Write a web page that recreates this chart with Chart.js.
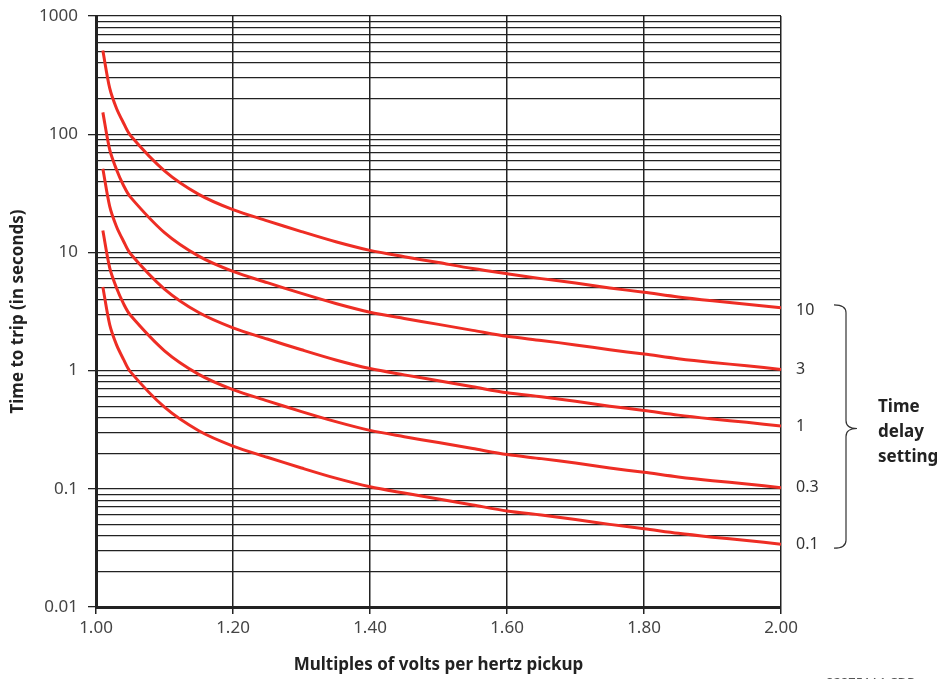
<!DOCTYPE html>
<html>
<head>
<meta charset="utf-8">
<script src="https://cdn.jsdelivr.net/npm/chart.js@4.4.1/dist/chart.umd.min.js"></script>
<style>
  html, body { margin: 0; padding: 0; background: #fff; }
  #wrap { position: relative; width: 947px; height: 679px; }
</style>
</head>
<body>
<div id="wrap"><canvas id="tripChart" width="947" height="679"></canvas></div>
<script>
// multiples of V/Hz pickup
const multiples = [1.01, 1.02, 1.03, 1.04, 1.05, 1.10, 1.15, 1.20, 1.25, 1.30, 1.35, 1.40,
                   1.45, 1.50, 1.55, 1.60, 1.65, 1.70, 1.75, 1.80, 1.85, 1.90, 1.95, 2.00];

// time to trip (s)
const td10  = [510, 245, 165, 125, 98, 49, 31, 23, 18.5, 15, 12.3, 10.4,
               9.2, 8.2, 7.3, 6.6, 6.0, 5.5, 5.0, 4.6, 4.2, 3.9, 3.65, 3.4];
const td3   = [153, 74, 50, 37, 29.5, 14.7, 9.3, 6.9, 5.55, 4.5, 3.7, 3.12,
               2.76, 2.46, 2.19, 1.95, 1.8, 1.65, 1.5, 1.38, 1.26, 1.17, 1.1, 1.02];
const td1   = [51, 24.5, 16.5, 12.5, 9.8, 4.9, 3.1, 2.3, 1.85, 1.5, 1.23, 1.04,
               0.92, 0.82, 0.73, 0.65, 0.6, 0.55, 0.5, 0.46, 0.42, 0.39, 0.365, 0.34];
const td03  = [15.3, 7.4, 5.0, 3.7, 2.95, 1.47, 0.93, 0.69, 0.555, 0.45, 0.37, 0.312,
               0.276, 0.246, 0.219, 0.195, 0.18, 0.165, 0.15, 0.138, 0.126, 0.117, 0.11, 0.102];
const td01  = [5.1, 2.45, 1.65, 1.25, 0.98, 0.49, 0.31, 0.23, 0.185, 0.15, 0.123, 0.104,
               0.092, 0.082, 0.073, 0.065, 0.06, 0.055, 0.05, 0.046, 0.042, 0.039, 0.0365, 0.034];

const curves = [td10, td3, td1, td03, td01];
const delayLabels = ['10', '3', '1', '0.3', '0.1'];

// y grid: every 1..9 x decade, labels only on decades
const decades = [0.01, 0.1, 1, 10, 100, 1000];
const yTicks = [];
decades.forEach((d, i) => {
    if (i === decades.length - 1) { yTicks.push(d); return; }
    for (let k = 1; k <= 9; k++) yTicks.push(+(d * k).toPrecision(3));
});
const xTicks = [1.00, 1.20, 1.40, 1.60, 1.80, 2.00];

const isDecade = v => decades.some(d => Math.abs(d - v) < d * 1e-6);

const FONT = "'Noto Sans', 'DejaVu Sans', sans-serif";
const RED = '#ee2d24';

// labels on the right + brace + footnote
const sidePlugin = {
    id: 'side',
    afterDraw(chart) {
        const ctx = chart.ctx;
        const y = chart.scales.y;
        const area = chart.chartArea;
        ctx.save();
        ctx.fillStyle = '#333';
        ctx.font = '16px ' + FONT;
        ctx.textBaseline = 'middle';
        ctx.textAlign = 'left';
        const ys = [];
        curves.forEach((c, i) => {
            const py = y.getPixelForValue(c[c.length - 1]);
            ys.push(py);
            ctx.fillText(delayLabels[i], area.right + 15, py + (i === 0 ? 3 : 0));
        });

        // brace
        const top = ys[0] - 3, bot = ys[ys.length - 1] + 4, mid = (top + bot) / 2 + 2;
        const bx = 846, r = 8;
        ctx.strokeStyle = '#333';
        ctx.lineWidth = 1.2;
        ctx.beginPath();
        ctx.moveTo(bx - 12, top);
        ctx.quadraticCurveTo(bx, top, bx, top + r);
        ctx.lineTo(bx, mid - r);
        ctx.quadraticCurveTo(bx, mid, bx + 11, mid);
        ctx.quadraticCurveTo(bx, mid, bx, mid + r);
        ctx.lineTo(bx, bot - r);
        ctx.quadraticCurveTo(bx, bot, bx - 12, bot);
        ctx.stroke();

        ctx.fillStyle = '#222';
        ctx.font = 'bold 17px ' + FONT;
        ctx.fillText('Time', 878, mid - 21);
        ctx.fillText('delay', 878, mid + 4);
        ctx.fillText('setting', 878, mid + 29);

        ctx.fillStyle = '#555';
        ctx.font = '13px ' + FONT;
        ctx.textBaseline = 'top';
        ctx.fillText('828751A1.CDR', 826, 677);
        ctx.restore();
    }
};

const ctx = document.getElementById('tripChart').getContext('2d');
new Chart(ctx, {
    type: 'line',
    data: {
        datasets: curves.map((c, i) => ({
            label: delayLabels[i],
            data: multiples.map((m, j) => ({ x: m, y: c[j] })),
            borderColor: RED,
            borderWidth: 3,
            pointRadius: 0,
            tension: 0.3,
            fill: false
        }))
    },
    options: {
        responsive: false,
        animation: false,
        layout: { padding: { top: 16, right: 166, left: 0, bottom: 0 } },
        plugins: { legend: { display: false }, tooltip: { enabled: false } },
        scales: {
            x: {
                type: 'linear',
                min: 1, max: 2,
                afterBuildTicks: s => { s.ticks = xTicks.map(v => ({ value: v })); },
                afterFit: s => { s.height = 72; s.paddingLeft = 0; s.paddingRight = 0; },
                ticks: {
                    callback: v => v.toFixed(2),
                    color: '#444',
                    font: { family: FONT, size: 17 },
                    padding: 4,
                    maxRotation: 0
                },
                grid: { color: '#222', lineWidth: 1.5, tickLength: 7, tickColor: '#222' },
                border: { color: '#222', width: 3 },
                title: {
                    display: true,
                    text: 'Multiples of volts per hertz pickup',
                    color: '#222',
                    font: { family: FONT, size: 17, weight: 'bold' },
                    padding: { top: 10 }
                }
            },
            y: {
                type: 'logarithmic',
                min: 0.01, max: 1000,
                afterBuildTicks: s => { s.ticks = yTicks.map(v => ({ value: v })); },
                afterFit: s => { s.width = 96; s.paddingTop = 0; s.paddingBottom = 0; },
                ticks: {
                    callback: v => isDecade(v) ? String(v) : '',
                    color: '#444',
                    font: { family: FONT, size: 17 },
                    padding: 10,
                    autoSkip: false
                },
                grid: {
                    color: '#222',
                    lineWidth: 1.3,
                    tickLength: 8,
                    tickColor: c => (c.tick && isDecade(c.tick.value)) ? '#222' : 'rgba(0,0,0,0)'
                },
                border: { color: '#222', width: 3 },
                title: {
                    display: true,
                    text: 'Time to trip (in seconds)',
                    color: '#222',
                    font: { family: FONT, size: 17, weight: 'bold' },
                    padding: { top: 8, bottom: 0 }
                }
            }
        }
    },
    plugins: [sidePlugin]
});
</script>
</body>
</html>
